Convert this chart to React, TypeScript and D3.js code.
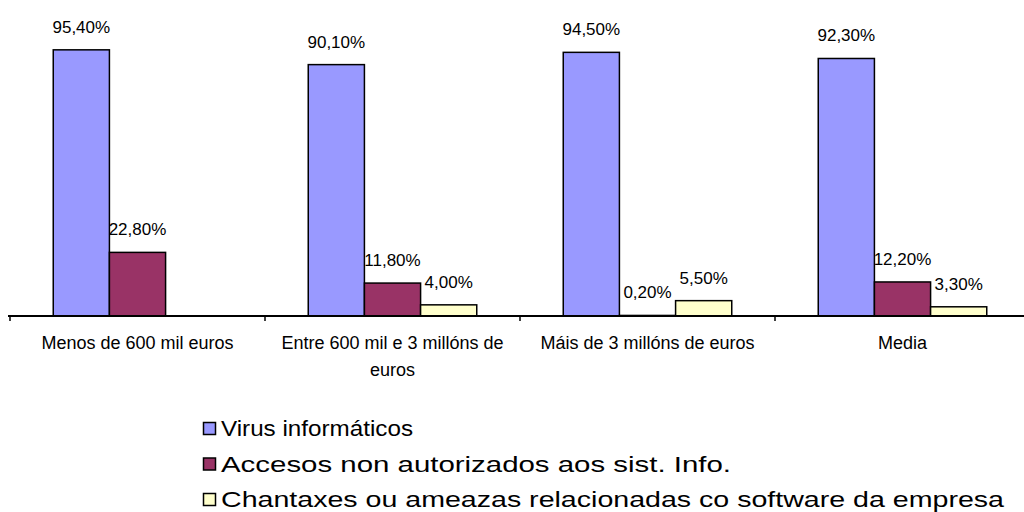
import React, { useRef, useEffect } from "react";
import * as d3 from "d3";

const categories = [
  ["Menos de 600 mil euros"],
  ["Entre 600 mil e 3 millóns de", "euros"],
  ["Máis de 3 millóns de euros"],
  ["Media"],
];
const seriesNames = [
  "Virus informáticos",
  "Accesos non autorizados aos sist. Info.",
  "Chantaxes ou ameazas relacionadas co software da empresa",
];
const virus = [95.4, 90.1, 94.5, 92.3];
const accesos = [22.8, 11.8, 0.2, 12.2];
const chantaxes = [0, 4.0, 5.5, 3.3];
const colors = ["#9999FF", "#993366", "#FFFFCC"];

const fmt = (v: number) => v.toFixed(2).replace(".", ",") + "%";

const App = () => {
  const ref = useRef<SVGSVGElement>(null);

  useEffect(() => {
    const svg = d3.select(ref.current);
    svg.selectAll("*").remove();
    const series = [virus, accesos, chantaxes];
    const baseY = 316;

    const x0 = d3.scaleBand()
      .domain(categories.map((d, i) => String(i)))
      .range([10, 1030])
      .paddingInner(0)
      .paddingOuter(0);
    const x1 = d3.scaleBand()
      .domain(["0", "1", "2"])
      .range([0, x0.bandwidth()])
      .paddingOuter(0.77)
      .paddingInner(0);
    const y = d3.scaleLinear().domain([0, 100]).range([baseY, 37]);

    const font = "'Liberation Sans', Arial, sans-serif";

    const g = svg.append("g");
    categories.forEach((c, ci) => {
      series.forEach((s, si) => {
        const v = s[ci];
        if (v <= 0) return;
        g.append("rect")
          .attr("x", x0(String(ci))! + x1(String(si))!)
          .attr("y", y(v))
          .attr("width", x1.bandwidth())
          .attr("height", baseY - y(v))
          .attr("fill", colors[si])
          .attr("stroke", "#000")
          .attr("stroke-width", 1.5);
      });
    });
    categories.forEach((c, ci) => {
      series.forEach((s, si) => {
        const v = s[ci];
        if (v <= 0) return;
        g.append("text")
          .attr("x", x0(String(ci))! + x1(String(si))! + x1.bandwidth() / 2)
          .attr("y", y(v) - 17)
          .attr("text-anchor", "middle")
          .attr("font-family", font)
          .attr("font-size", 17)
          .attr("fill", "#000")
          .text(fmt(v));
      });
    });

    // axis line and ticks
    svg.append("line")
      .attr("x1", 8).attr("x2", 1024)
      .attr("y1", baseY).attr("y2", baseY)
      .attr("stroke", "#000").attr("stroke-width", 2);
    categories.forEach((c, ci) => {
      const xt = x0(String(ci))!;
      svg.append("line")
        .attr("x1", xt).attr("x2", xt)
        .attr("y1", baseY).attr("y2", baseY + 5)
        .attr("stroke", "#000").attr("stroke-width", 1.5);
    });

    categories.forEach((lines, ci) => {
      const cx = x0(String(ci))! + x0.bandwidth() / 2;
      lines.forEach((l, li) => {
        svg.append("text")
          .attr("x", cx)
          .attr("y", 349 + li * 27)
          .attr("text-anchor", "middle")
          .attr("font-family", font)
          .attr("font-size", 18)
          .attr("fill", "#000")
          .text(l);
      });
    });

    const legendWidths = [192, 510, 783];
    const legend = svg.append("g");
    seriesNames.forEach((n, i) => {
      const ly = 436 + i * 35.5;
      legend.append("rect")
        .attr("x", 203.5).attr("y", ly - 13.5)
        .attr("width", 12).attr("height", 12)
        .attr("fill", colors[i])
        .attr("stroke", "#000").attr("stroke-width", 1.5);
      legend.append("text")
        .attr("x", 221).attr("y", ly)
        .attr("font-family", font)
        .attr("font-size", 22)
        .attr("textLength", legendWidths[i])
        .attr("lengthAdjust", "spacingAndGlyphs")
        .attr("fill", "#000")
        .text(n);
    });
  }, []);

  return (
    <svg ref={ref} width={1024} height={512}
      style={{ position: "absolute", left: 0, top: 0, background: "#fff" }} />
  );
};

export default App;
